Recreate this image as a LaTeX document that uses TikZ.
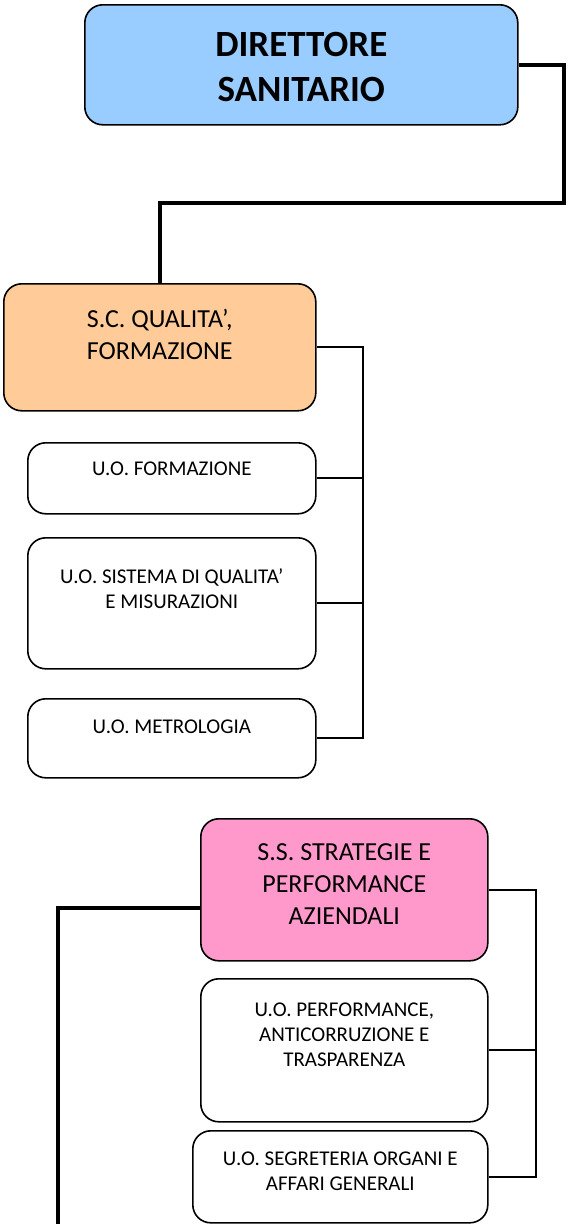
\documentclass[tikz,border=0pt]{standalone}
\usepackage{fontspec}
\setmainfont{Carlito}
\usetikzlibrary{calc}
\definecolor{cblue}{HTML}{99CCFF}
\definecolor{corange}{HTML}{FFCC99}
\definecolor{cpink}{HTML}{FF99CC}
\begin{document}
\begin{tikzpicture}[x=1pt,y=-1pt,
  box/.style={draw=black, line width=1.6pt, rounded corners=18pt, inner sep=0pt, anchor=north west},
  lbl/.style={anchor=north, inner sep=0pt, align=center},
  huge/.style={font=\fontsize{37}{45}\selectfont\bfseries},
  big/.style={font=\fontsize{26}{32}\selectfont},
  small/.style={font=\fontsize{21}{25}\selectfont},
  thickconn/.style={line width=4pt},
  thinconn/.style={line width=2pt}]
\useasboundingbox (0,0) rectangle (568,1224);

\coordinate (r1) at (564,0);
\coordinate (h1) at (0,203);
\coordinate (v1) at (363,0);
\coordinate (v2) at (536,0);
\coordinate (bend) at (58,1240);

% boxes
\node[box, fill=cblue, minimum width=433pt, minimum height=120pt] (dir) at (84,4) {};
\node[box, fill=corange, minimum width=312pt, minimum height=127pt] (sc) at (3,283) {};
\node[box, fill=white, minimum width=288pt, minimum height=71pt] (uo1) at (27,442) {};
\node[box, fill=white, minimum width=288pt, minimum height=131pt] (uo2) at (27,537) {};
\node[box, fill=white, minimum width=288pt, minimum height=79pt] (uo3) at (27,698) {};
\node[box, fill=cpink, minimum width=287pt, minimum height=142pt] (ss) at (200,818) {};
\node[box, fill=white, minimum width=287pt, minimum height=143pt] (uo4) at (200,978) {};
\node[box, fill=white, minimum width=295pt, minimum height=92pt] (uo5) at (192,1130) {};

% texts
\node[lbl, huge] (tdir) at ($(dir.north)+(0,28)$) {DIRETTORE\\SANITARIO};
\node[lbl, big] (tsc) at ($(sc.north)+(0,26)$) {S.C. QUALITA’,\\FORMAZIONE};
\node[lbl, small] (tuo1) at ($(uo1.north)+(0,20)$) {U.O. FORMAZIONE};
\node[lbl, small] (tuo2) at ($(uo2.north)+(0,31)$) {U.O. SISTEMA DI QUALITA’\\E MISURAZIONI};
\node[lbl, small] (tuo3) at ($(uo3.north)+(0,22)$) {U.O. METROLOGIA};
\node[lbl, big] (tss) at ($(ss.north)+(0,25)$) {S.S. STRATEGIE E\\PERFORMANCE\\AZIENDALI};
\node[lbl, small] (tuo4) at ($(uo4.north)+(0,25)$) {U.O. PERFORMANCE,\\ANTICORRUZIONE E\\TRASPARENZA};
\node[lbl, small] (tuo5) at ($(uo5.north)+(0,22)$) {U.O. SEGRETERIA ORGANI E\\AFFARI GENERALI};

% connectors
\draw[thickconn] (dir.east) -| (r1 |- h1) -| (sc.north);
\draw[thinconn] (sc.east) -- (sc.east -| v1) |- (uo3.east);
\draw[thinconn] (uo1.east) -- (uo1.east -| v1);
\draw[thinconn] (uo2.east) -- (uo2.east -| v1);
\draw[thickconn] ($(ss.west)+(0,18)$) -| (bend);
\draw[thinconn] (ss.east) -- (ss.east -| v2) |- (uo5.east);
\draw[thinconn] (uo4.east) -- (uo4.east -| v2);
\end{tikzpicture}
\end{document}
